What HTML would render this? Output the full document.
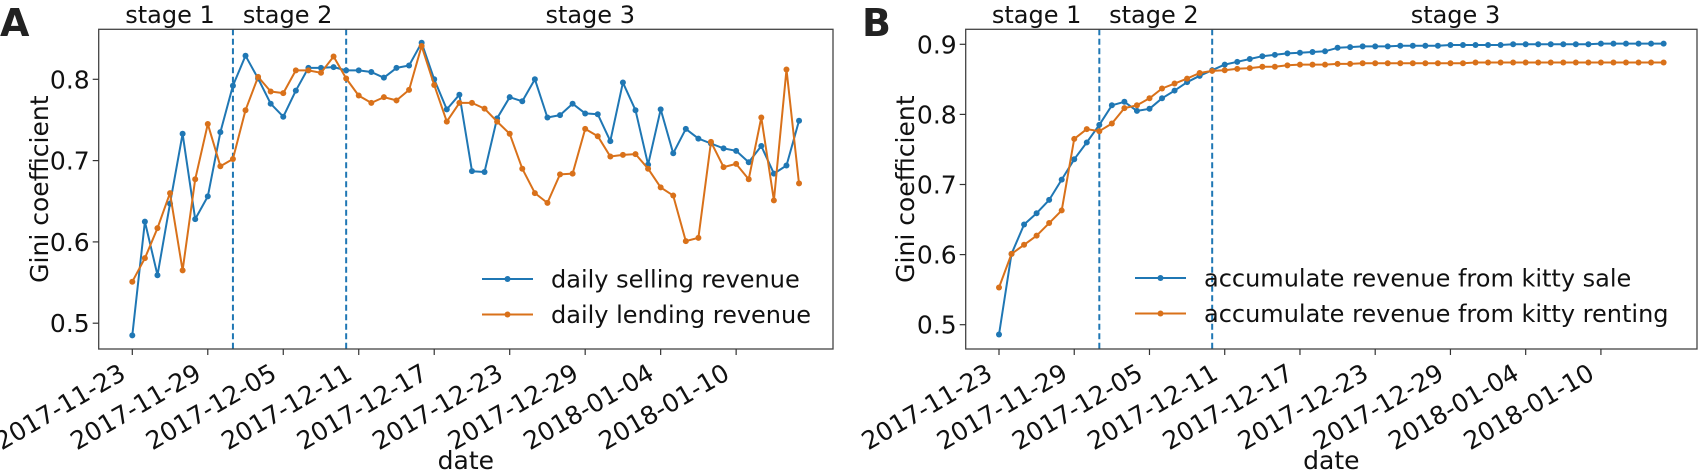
<!DOCTYPE html>
<html><head><meta charset="utf-8"><style>
html,body{margin:0;padding:0;background:#fff;}
svg{display:block;font-family:"DejaVu Sans","Liberation Sans",sans-serif;}
</style></head><body>
<svg id="fig" width="1700" height="473" viewBox="0 0 1700 473" xmlns="http://www.w3.org/2000/svg"></svg>
<script>
const tickDates = ["2017-11-23","2017-11-29","2017-12-05","2017-12-11","2017-12-17","2017-12-23","2017-12-29","2018-01-04","2018-01-10"];
const tickDays = [0,6,12,18,24,30,36,42,48];
const stageBounds = [8,17];
const stageLabels = ["stage 1","stage 2","stage 3"];
const stageDays = [3,12.35,36.4];
const dailySelling = [0.485,0.625,0.559,0.647,0.733,0.628,0.656,0.735,0.792,0.829,0.801,0.770,0.754,0.786,0.814,0.814,0.815,0.811,0.811,0.809,0.802,0.814,0.817,0.845,
0.800,0.763,0.781,0.687,0.686,0.752,0.778,0.773,0.800,0.753,0.756,0.770,0.758,0.757,0.724,0.796,0.762,0.695,0.763,0.709,
0.739,0.727,0.721,0.715,0.712,0.698,0.718,0.684,0.694,0.749];
const dailyLending = [0.551,0.580,0.617,0.660,0.565,0.677,0.745,0.693,0.702,0.762,0.803,0.785,0.783,0.811,0.811,0.808,0.828,0.801,0.780,0.771,0.778,0.774,0.787,0.841,
0.793,0.748,0.771,0.771,0.764,0.748,0.733,0.690,0.660,0.648,0.683,0.684,0.739,0.730,0.705,0.707,0.708,0.690,0.667,0.657,0.601,0.605,
0.723,0.692,0.696,0.677,0.753,0.651,0.812,0.672];
const accSale = [0.486,0.601,0.643,0.659,0.678,0.707,0.736,0.760,0.785,0.813,0.818,0.805,0.808,0.823,0.834,0.846,0.855,
0.863,0.871,0.875,0.879,0.883,0.885,0.887,0.888,0.889,0.890,0.895,0.896,0.897,
0.897,0.897,0.898,0.898,0.898,0.898,0.899,0.899,0.899,0.899,0.899,0.900,0.900,0.900,0.900,0.900,0.900,0.900,0.901,0.901,0.901,0.901,0.901,0.901];
const accRent = [0.553,0.601,0.614,0.627,0.645,0.663,0.765,0.779,0.776,0.787,0.809,0.813,0.823,0.837,0.844,0.851,0.859,
0.862,0.863,0.865,0.866,0.868,0.868,0.870,0.871,0.871,0.871,0.872,0.872,0.873,
0.873,0.873,0.873,0.873,0.873,0.873,0.873,0.873,0.874,0.874,0.874,0.874,0.874,0.874,0.874,0.874,0.874,0.874,0.874,0.874,0.874,0.874,0.874,0.874];
const yTicksA = [0.5,0.6,0.7,0.8];
const yTicksB = [0.5,0.6,0.7,0.8,0.9];

const NS="http://www.w3.org/2000/svg";
const svg=document.getElementById('fig');
const BLUE="#1f77b4", ORANGE="#d9711a";
function el(tag,attrs,parent,text){const e=document.createElementNS(NS,tag);for(const k in attrs)e.setAttribute(k,attrs[k]);if(text!==undefined)e.textContent=text;(parent||svg).appendChild(e);return e;}

function panel(cfg){
  const g=el('g',{});
  
  
  const X=d=>cfg.x0+d*cfg.dx;
  const Y=v=>cfg.yRef+(cfg.vRef-v)*cfg.py;
  const L=el('text',{x:cfg.letterX,y:36,'font-size':38,'font-weight':'bold',fill:'#222'},g,cfg.letter);
  
  
  stageBounds.forEach(b=>{
    const ln=el('line',{x1:X(b),x2:X(b),y1:cfg.top,y2:cfg.bottom,stroke:BLUE,'stroke-width':2,'stroke-dasharray':'6,3.5'},g);
    
    
  });
  stageLabels.forEach((s,i)=>{
    const t=el('text',{x:X(stageDays[i]),y:23,'font-size':24,'text-anchor':'middle',fill:'#111'},g,s);
    
    
  });
  cfg.series.forEach(s=>{
    const sg=el('g',{},g);
    
    
    const pts=s.data.map((v,i)=>X(i).toFixed(1)+','+Y(v).toFixed(1)).join(' ');
    el('polyline',{points:pts,fill:'none',stroke:s.color,'stroke-width':2,'stroke-linejoin':'round'},sg);
    s.data.forEach((v,i)=>{
      const c=el('circle',{cx:X(i),cy:Y(v),r:3,fill:s.color},sg);
      
      
    });
  });
  const fr=el('rect',{x:cfg.left,y:cfg.top,width:cfg.right-cfg.left,height:cfg.bottom-cfg.top,fill:'none',stroke:'#444','stroke-width':1.3},g);
  
  
  cfg.yTicks.forEach(v=>{
    el('line',{x1:cfg.left-6,x2:cfg.left,y1:Y(v),y2:Y(v),stroke:'#333','stroke-width':1.2},g);
    const t=el('text',{x:cfg.left-9,y:Y(v)+9,'font-size':25,'text-anchor':'end',fill:'#111'},g,v.toFixed(1));
    
    
  });
  tickDays.forEach((d,i)=>{
    el('line',{x1:X(d),x2:X(d),y1:cfg.bottom,y2:cfg.bottom+6,stroke:'#333','stroke-width':1.2},g);
    const ax=X(d)-5, ay=378;
    const t=el('text',{x:ax,y:ay,'font-size':25,'text-anchor':'end',fill:'#111',transform:`rotate(-30 ${ax} ${ay})`},g,tickDates[i]);
    
    
  });
  const xl=el('text',{x:(cfg.left+cfg.right)/2,y:469,'font-size':25,'text-anchor':'middle',fill:'#111'},g,'date');
  
  
  const yc=(cfg.top+cfg.bottom)/2;
  const yl=el('text',{x:cfg.ylabX,y:yc,'font-size':25,'text-anchor':'middle',fill:'#111',transform:`rotate(-90 ${cfg.ylabX} ${yc})`},g,'Gini coefficient');
  
  
  const lg=el('g',{},g);
  
  
  cfg.series.forEach((s,i)=>{
    const ly=cfg.legY+i*35.5;
    const e=el('g',{},lg);
    
    
    el('line',{x1:cfg.legX,x2:cfg.legX+51,y1:ly,y2:ly,stroke:s.color,'stroke-width':2},e);
    el('circle',{cx:cfg.legX+25.5,cy:ly,r:3,fill:s.color},e);
    el('text',{x:cfg.legX+69,y:ly+8.5,'font-size':24,fill:'#111'},e,s.label);
  });
}

panel({name:'panel-a',letter:'A',letterX:0,left:98.7,right:833,top:29.3,bottom:349,
  x0:132.3,dx:12.58,yRef:79.3,vRef:0.8,py:813,yTicks:yTicksA,ylabX:48,legX:482,legY:279,
  series:[{name:'daily-selling-line',data:dailySelling,color:BLUE,label:'daily selling revenue'},
          {name:'daily-lending-line',data:dailyLending,color:ORANGE,label:'daily lending revenue'}]});
panel({name:'panel-b',letter:'B',letterX:862,left:965.7,right:1697,top:29.3,bottom:349,
  x0:999,dx:12.54,yRef:44.3,vRef:0.9,py:701,yTicks:yTicksB,ylabX:914,legX:1135,legY:278,
  series:[{name:'acc-sale-line',data:accSale,color:BLUE,label:'accumulate revenue from kitty sale'},
          {name:'acc-rent-line',data:accRent,color:ORANGE,label:'accumulate revenue from kitty renting'}]});
</script>
</body></html>
